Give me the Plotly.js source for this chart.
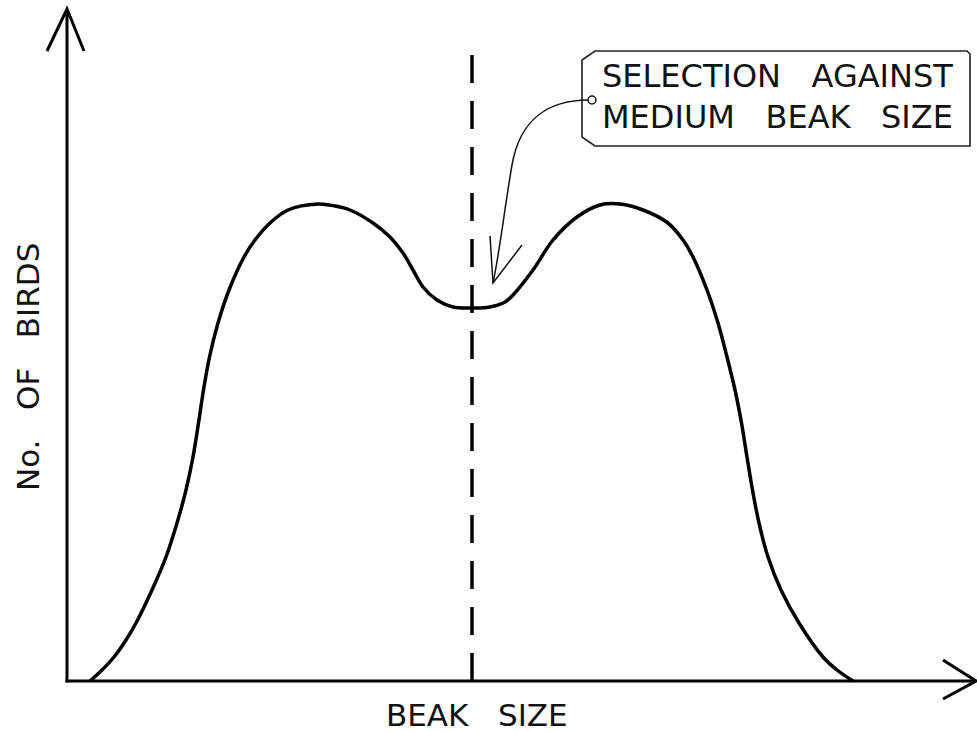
<!DOCTYPE html>
<html>
<head>
<meta charset="utf-8">
<script src="https://cdn.plot.ly/plotly-3.0.1.min.js"></script>
<style>html,body{margin:0;padding:0;background:#fff;}#chart{width:977px;height:732px;}</style>
</head>
<body>
<div id="chart"></div>
<script>
// Beak size (arbitrary units) and number of birds (arbitrary units)
var beakSize = [23,35,47,59,69,85,99,110,119,126,131.5,136.5,142.5,151,162,177,188,203,221,251,
                268,283,306,323,336,346,356,370,386,406,423,438,446,466,486,510,533,553,576,601,
                616,626,640,651,660,668,674.5,680,685.5,692,701,714,732,756,770,786];
var birds    = [0,11,24,41,58,91,124,158,191,224,258,291,324,358,391,424,441,458,471,477,
                475,471,458,444,428,411,394,381,374,373,374,379,386,411,441,464,476,477,471,458,
                441,424,391,358,324,291,258,224,191,158,124,91,58,24,11,0];
var mediumBeak = 405;          // position of the dashed line (medium beak size)
var xLabel = "BEAK\u00A0\u00A0\u00A0SIZE";
var yLabel = "No.\u00A0\u00A0\u00A0OF\u00A0\u00A0\u00A0BIRDS";
var noteLines = ["SELECTION\u00A0\u00A0\u00A0AGAINST", "MEDIUM\u00A0\u00A0\u00A0BEAK\u00A0\u00A0\u00A0SIZE"];

var FONT = "DejaVu Sans, sans-serif";

var trace = {
  x: beakSize, y: birds, type: "scatter", mode: "lines",
  line: {color: "#000", width: 3.5, shape: "spline", smoothing: 1},
  hoverinfo: "skip"
};

var shapes = [
  // medium beak size dashed line
  {type: "line", xref: "x", yref: "y", x0: mediumBeak, x1: mediumBeak, y0: 0, y1: 641,
   line: {color: "#000", width: 3.5, dash: "28px,18px"}, layer: "below"},
  // axes
  {type: "line", xref: "x", yref: "y", x0: 0, x1: 0, y0: -1.5, y1: 671, line: {color: "#000", width: 3}},
  {type: "line", xref: "x", yref: "y", x0: -1.5, x1: 908, y0: 0, y1: 0, line: {color: "#000", width: 3}},
  {type: "path", xref: "x", yref: "y", path: "M -20,630 L 0,672 L 17,630", line: {color: "#000", width: 3}},
  {type: "path", xref: "x", yref: "y", path: "M 876,21 L 909,0 L 876,-18", line: {color: "#000", width: 3}},
  // label tag
  {type: "path", xref: "x", yref: "y", path: "M515,621 L528,630 L900,630 L903,627 L903,535 L528,535 L515,544 Z",
   line: {color: "#222", width: 1.6}, fillcolor: "#fff"},
  // curved pointer
  {type: "path", xref: "x", yref: "y", path: "M525,581 C483,582 453,563 445,516 C438,476 433,431 426,398",
   line: {color: "#111", width: 1.5}},
  {type: "path", xref: "x", yref: "y", path: "M423,445 L426,398 L455,436", line: {color: "#111", width: 1.5}},
  {type: "circle", xref: "x", yref: "y", x0: 521, x1: 529, y0: 577, y1: 585,
   line: {color: "#111", width: 1.5}, fillcolor: "#fff"}
];

var annotations = [
  {x: 410, y: -34, xref: "x", yref: "y", text: xLabel, showarrow: false,
   font: {family: FONT, size: 31, color: "#111"}, xanchor: "center", yanchor: "middle"},
  {x: -39, y: 314, xref: "x", yref: "y", text: yLabel, showarrow: false, textangle: -90,
   font: {family: FONT, size: 31, color: "#111"}, xanchor: "center", yanchor: "middle"},
  {x: 533, y: 605, xref: "x", yref: "y", text: noteLines[0], showarrow: false,
   font: {family: FONT, size: 32, color: "#111"}, xanchor: "left", yanchor: "middle"},
  {x: 533, y: 564, xref: "x", yref: "y", text: noteLines[1], showarrow: false,
   font: {family: FONT, size: 32, color: "#111"}, xanchor: "left", yanchor: "middle"}
];

var layout = {
  width: 977, height: 732,
  margin: {l: 0, r: 0, t: 0, b: 0},
  paper_bgcolor: "#fff", plot_bgcolor: "#fff",
  showlegend: false,
  xaxis: {range: [-67, 910], visible: false, fixedrange: true},
  yaxis: {range: [-51, 681], visible: false, fixedrange: true},
  shapes: shapes,
  annotations: annotations
};

Plotly.newPlot("chart", [trace], layout, {displayModeBar: false, staticPlot: true});
</script>
</body>
</html>
